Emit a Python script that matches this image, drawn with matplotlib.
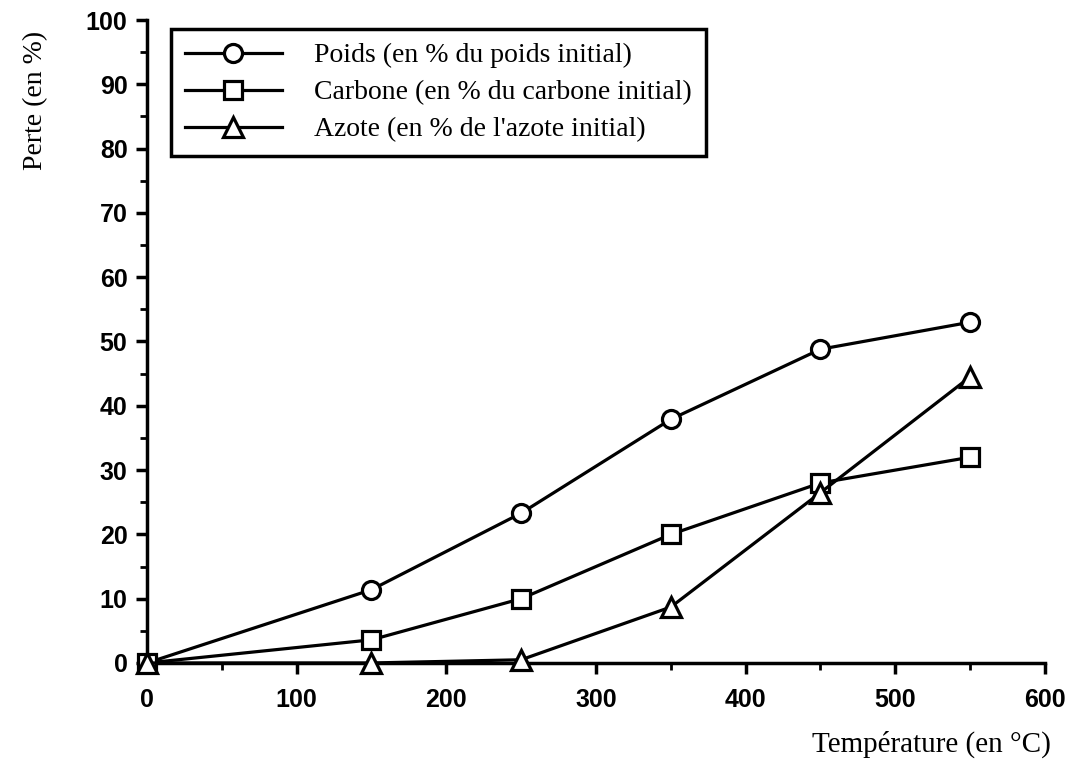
import numpy as np
import matplotlib
matplotlib.use("Agg")
import matplotlib.pyplot as plt
from matplotlib.ticker import MultipleLocator

temperature = [0, 150, 250, 350, 450, 550]
poids = [0, 11.4, 23.3, 37.9, 48.8, 53.0]
carbone = [0, 3.6, 10.0, 20.0, 28.0, 32.0]
azote = [0, 0, 0.5, 8.7, 26.5, 44.5]

labels = ["Poids (en % du poids initial)",
          "Carbone (en % du carbone initial)",
          "Azote (en % de l'azote initial)"]
markers = ['o', 's', '^']

fig = plt.figure(figsize=(10.79, 7.70), dpi=100)
ax = fig.add_axes([0.1362, 0.139, 0.8323, 0.835])

for y, m, lab in zip([poids, carbone, azote], markers, labels):
    ms = 13 if m != '^' else 15
    ax.plot(temperature, y, color='black', lw=2.3, marker=m, ms=ms,
            mfc='white', mec='black', mew=2.3, label=lab, clip_on=False, zorder=3)

ax.set_xlim(0, 600)
ax.set_ylim(0, 100)
ax.xaxis.set_major_locator(MultipleLocator(100))
ax.xaxis.set_minor_locator(MultipleLocator(50))
ax.yaxis.set_major_locator(MultipleLocator(10))
ax.yaxis.set_minor_locator(MultipleLocator(5))

for s in ['top', 'right']:
    ax.spines[s].set_visible(False)
for s in ['left', 'bottom']:
    ax.spines[s].set_linewidth(2.5)

ax.tick_params(which='major', direction='out', length=8, width=2.5)
ax.tick_params(which='minor', direction='out', length=5, width=2)
ax.tick_params(axis='x', pad=10)
ax.tick_params(axis='y', pad=6)
for t in ax.get_xticklabels() + ax.get_yticklabels():
    t.set_fontfamily('Liberation Sans')
    t.set_fontweight('bold')
    t.set_fontsize(18)

serif = 'Liberation Serif'
fig.text(0.033, 0.87, "Perte (en %)", rotation=90, ha='center', va='center',
         fontsize=20, family=serif)
fig.text(0.974, 0.033, "Température (en °C)", ha='right', va='center',
         fontsize=21, family=serif)

leg = ax.legend(loc='upper left', bbox_to_anchor=(0.0267, 0.986),
                prop={'family': serif, 'size': 20},
                handlelength=3.5, handletextpad=1.15, borderpad=0.5, labelspacing=0.42,
                borderaxespad=0, fancybox=False, framealpha=1, edgecolor='black')
leg.get_frame().set_linewidth(2.5)

plt.savefig("out.png", dpi=100)
